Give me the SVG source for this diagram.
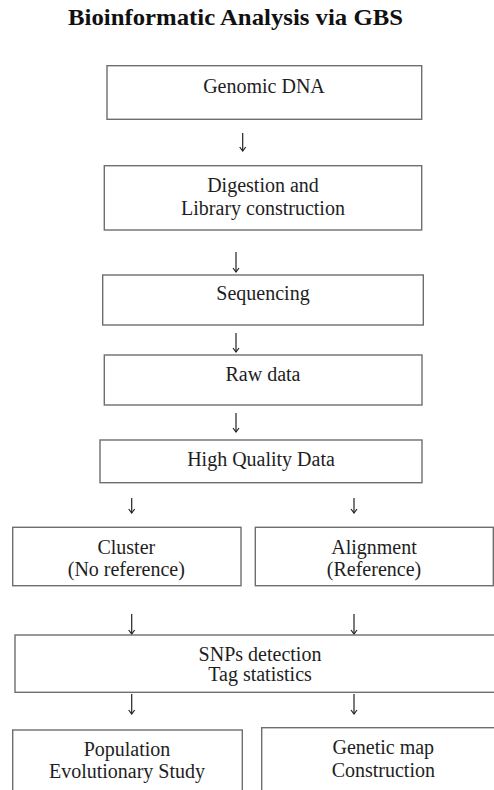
<svg xmlns="http://www.w3.org/2000/svg" width="494" height="790" viewBox="0 0 494 790">
<defs>
<style>
.box{fill:#fff;stroke:#6e6e6e;stroke-width:1.4}
.t{font-family:'Times New Roman','Liberation Serif',Times,serif;font-size:20px;fill:#1e1e1e;text-anchor:middle}
.title{font-family:'Times New Roman','Liberation Serif',Times,serif;font-size:23px;font-weight:bold;fill:#111}
.c{stroke:#222;stroke-width:1.2;fill:none;marker-end:url(#ah)}
</style>
<marker id="ah" viewBox="0 0 10 10" refX="9" refY="5" markerWidth="10" markerHeight="10" markerUnits="userSpaceOnUse" orient="auto">
<path d="M5,2 L9,5 L5,8" fill="none" stroke="#222" stroke-width="1.2"/>
</marker>
</defs>
<rect width="494" height="790" fill="#fff"/>
<text class="title" x="68" y="25" textLength="335" lengthAdjust="spacingAndGlyphs">Bioinformatic Analysis via GBS</text>

<g id="connectors">
<path class="c" d="M242.7,133 V151"/>
<path class="c" d="M236,252 V272"/>
<path class="c" d="M236,333 V352"/>
<path class="c" d="M236,413 V432"/>
<path class="c" d="M131.7,498 V513"/>
<path class="c" d="M354,498 V513"/>
<path class="c" d="M131.7,614 V634"/>
<path class="c" d="M354,614 V634"/>
<path class="c" d="M131.7,694 V714"/>
<path class="c" d="M354,694 V714"/>
</g>

<g id="genomic-dna">
<rect class="box" x="107" y="65.7" width="314.7" height="53.6"/>
<text class="t" x="264" y="92.7">Genomic DNA</text>
</g>
<g id="digestion">
<rect class="box" x="104.3" y="165.7" width="317.4" height="64.3"/>
<text class="t" x="263" y="191.7">Digestion and</text>
<text class="t" x="263" y="215">Library construction</text>
</g>
<g id="sequencing">
<rect class="box" x="102.7" y="275" width="320.6" height="50"/>
<text class="t" x="263" y="300">Sequencing</text>
</g>
<g id="raw-data">
<rect class="box" x="104.3" y="355" width="317.7" height="50"/>
<text class="t" x="263" y="380.7">Raw data</text>
</g>
<g id="high-quality">
<rect class="box" x="100" y="440" width="322" height="42.7"/>
<text class="t" x="261" y="465.7">High Quality Data</text>
</g>
<g id="cluster">
<rect class="box" x="12.7" y="527.3" width="228.3" height="58.4"/>
<text class="t" x="126.3" y="554">Cluster</text>
<text class="t" x="126.3" y="576">(No reference)</text>
</g>
<g id="alignment">
<rect class="box" x="255.3" y="527.3" width="238" height="58.4"/>
<text class="t" x="374" y="554">Alignment</text>
<text class="t" x="374" y="576">(Reference)</text>
</g>
<g id="snps">
<rect class="box" x="15" y="635" width="490" height="57.3"/>
<text class="t" x="260" y="661">SNPs detection</text>
<text class="t" x="260" y="681">Tag statistics</text>
</g>
<g id="population">
<rect class="box" x="12.7" y="730" width="229.6" height="80"/>
<text class="t" x="127" y="755.7">Population</text>
<text class="t" x="127" y="778.3">Evolutionary Study</text>
</g>
<g id="genetic-map">
<rect class="box" x="261.7" y="727.7" width="250" height="80"/>
<text class="t" x="383.3" y="754">Genetic map</text>
<text class="t" x="383.3" y="776.7">Construction</text>
</g>
</svg>
